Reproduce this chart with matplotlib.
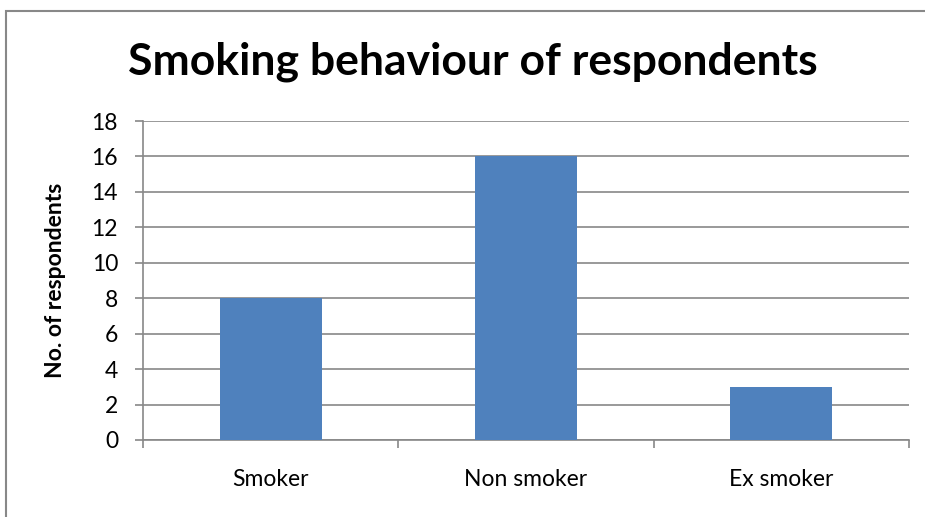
import numpy as np
import matplotlib
matplotlib.use('Agg')
from matplotlib import pyplot as plt
from matplotlib.patches import Rectangle

categories = ['Smoker', 'Non smoker', 'Ex smoker']
respondents = [8, 16, 3]
y_ticks = list(range(0, 20, 2))

BAR_COLOR = '#4F81BD'
GRID_COLOR = '#888888'

plt.rcParams['font.family'] = ['Lato', 'DejaVu Sans']

W, H = 925, 517
fig = plt.figure(figsize=(W / 100, H / 100), dpi=100)

# chart border (Excel frame, right/bottom edges fall outside the crop)
fig.patches.append(Rectangle((6 / W, -0.1), 1.2, 1 - 11 / H + 0.1, transform=fig.transFigure,
                             fill=False, edgecolor=GRID_COLOR, linewidth=1.5))

ax = fig.add_axes([143 / W, 1 - 440 / H, (909 - 143) / W, (440 - 121) / H])
x = np.arange(len(categories))
ax.bar(x, respondents, width=0.4, color=BAR_COLOR, zorder=3)

ax.set_xlim(-0.5, len(categories) - 0.5)
ax.set_ylim(0, 18)
ax.set_yticks(y_ticks)
ax.yaxis.grid(True, color=GRID_COLOR, linewidth=1.2, zorder=0)

# category boundaries get the tick marks, names sit in between
ax.set_xticks(np.arange(-0.5, len(categories), 1.0))
ax.set_xticklabels([])
ax.set_xticks(x, minor=True)
ax.set_xticklabels(categories, minor=True, fontsize=16.5)
ax.tick_params(axis='x', which='minor', length=0, pad=21)
ax.tick_params(axis='x', which='major', length=6, color=GRID_COLOR, width=1.2)
ax.tick_params(axis='y', length=6, color=GRID_COLOR, width=1.2, labelsize=16.5, pad=12)

for side in ['top', 'right']:
    ax.spines[side].set_visible(False)
for side in ['left', 'bottom']:
    ax.spines[side].set_color(GRID_COLOR)
    ax.spines[side].set_linewidth(1.2)

ax.set_ylabel('No. of respondents', fontsize=16.5, fontweight='bold', labelpad=18)
fig.text(473 / W, 1 - 62 / H, 'Smoking behaviour of respondents', ha='center', va='center',
         fontsize=32, fontweight='bold')

fig.savefig('out.png', dpi=100)
